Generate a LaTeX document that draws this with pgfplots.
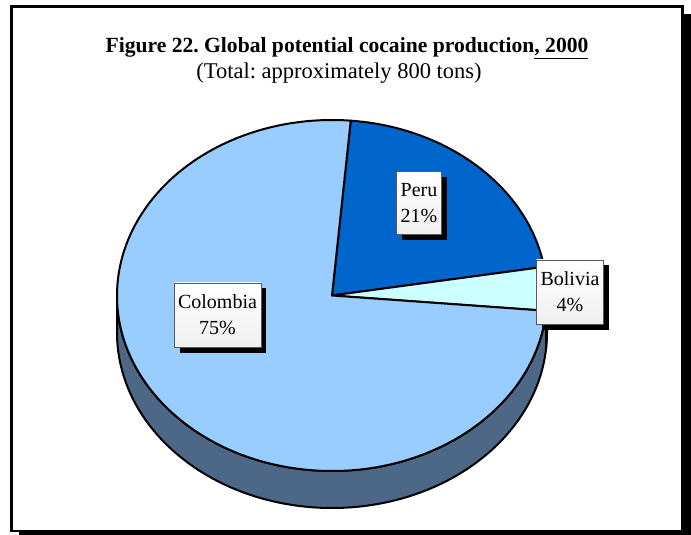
\documentclass[border=0pt]{standalone}
\usepackage{pgfplots}
\pgfplotsset{compat=1.18}
\usepackage{pgfplotstable}
\usepackage{fontspec}
\setmainfont{Liberation Serif}
\usetikzlibrary{shadows}
\frenchspacing

\definecolor{colombia}{HTML}{99CCFF}
\definecolor{peru}{HTML}{0066CC}
\definecolor{bolivia}{HTML}{CCFFFF}
\definecolor{sidecol}{HTML}{4D6886}
\definecolor{sidebol}{HTML}{6E8A8A}

% share in percent, label position (image pixels, y from bottom)
\pgfplotstableread{
name     share  x      y
Colombia 75     217.5  220
Peru     21     419    332
Bolivia  4      570    243
}\slices

\pgfplotstablegetelem{0}{share}\of\slices \let\vCol\pgfplotsretval
\pgfplotstablegetelem{1}{share}\of\slices \let\vPer\pgfplotsretval
\pgfplotstablegetelem{2}{share}\of\slices \let\vBol\pgfplotsretval

% pie geometry
\def\cx{332}\def\cy{239.5}\def\rx{215}\def\ry{175.5}\def\dep{37}
\pgfmathsetmacro\aA{85}
\pgfmathsetmacro\aB{\aA-3.6*\vPer}
\pgfmathsetmacro\aC{\aB-3.6*\vBol}
\pgfmathsetmacro\aD{\aC-3.6*\vCol}

\newcommand\slice[3]{%
  \filldraw[fill=#3, draw=black, line width=2pt, line join=round]
    (\cx,\cy) -- ({\cx+\rx*cos(#1)},{\cy+\ry*sin(#1)})
    arc[start angle=#1, end angle=#2, x radius=\rx pt, y radius=\ry pt] -- cycle;}
\newcommand\side[3]{%
  \filldraw[fill=#3, draw=black, line width=2pt, line join=round]
    ({\cx+\rx*cos(#1)},{\cy+\ry*sin(#1)})
    arc[start angle=#1, end angle=#2, x radius=\rx pt, y radius=\ry pt]
    -- ++(0pt,-\dep pt)
    arc[start angle=#2, end angle=#1, x radius=\rx pt, y radius=\ry pt] -- cycle;}

\begin{document}
\begin{tikzpicture}
\begin{axis}[
  x=1pt, y=1pt,
  xmin=0, xmax=691, ymin=0, ymax=535,
  hide axis,
]
% background, frame with shadow
\fill[white] (0,0) rectangle (691,535);
\fill[black] (19,0) rectangle (691,521);
\filldraw[fill=white, draw=black, line width=2.5pt] (11.5,528.5) rectangle (682.5,4);

% titles
\node[anchor=base, font=\fontsize{21.6}{26}\selectfont\bfseries] at (347,482)
  {Figure 22. Global potential cocaine production\underline{, 2000}};
\node[anchor=base, font=\fontsize{22.5}{26}\selectfont] at (339,456)
  {(Total: approximately 800 tons)};

% sides of the pie (front half)
\side{\aC}{-180}{sidecol}
\side{0}{\aC}{sidebol}

% top faces
\slice{\aA}{\aB}{peru}
\slice{\aB}{\aC}{bolivia}
\slice{\aC}{\aD}{colombia}

% labels
\addplot[draw=none, mark=none,
  point meta=explicit symbolic,
  visualization depends on={\thisrow{share}\as\pct},
  nodes near coords={\pgfplotspointmeta\\\pgfmathprintnumber[assume math mode=true]{\pct}\%},
  nodes near coords align=center,
  every node near coord/.append style={
    anchor=center, align=center,
    font=\fontsize{20}{26}\selectfont,
    draw=black!65, line width=0.7pt,
    top color=white, bottom color=gray!12,
    inner xsep=4pt, inner ysep=12pt,
    drop shadow={shadow xshift=5.5pt, shadow yshift=-5.5pt, fill=black, opacity=1}},
] table[x=x, y=y, meta=name] {\slices};
\end{axis}
\end{tikzpicture}
\end{document}
